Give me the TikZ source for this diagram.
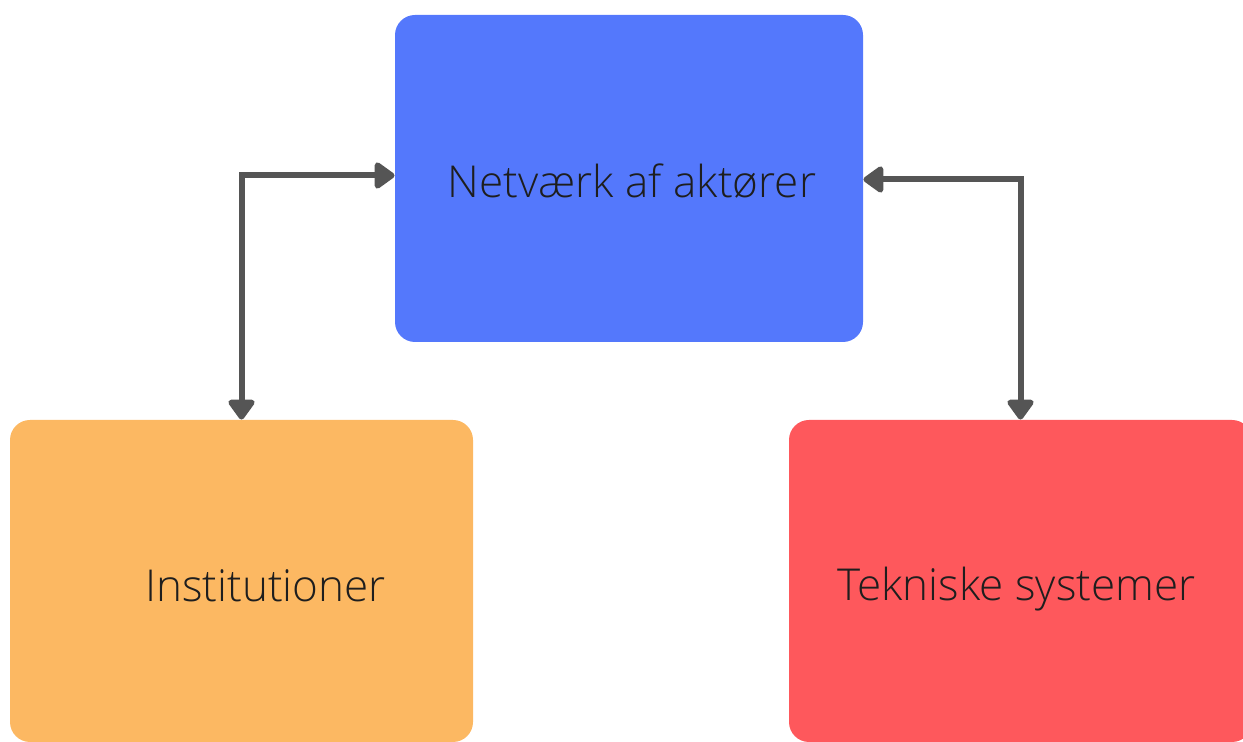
\documentclass[tikz,border=0pt]{standalone}
\usepackage{fontspec}
\IfFontExistsTF{Open Sans Light}{\setmainfont{Open Sans Light}}{\setmainfont{Open Sans}}
\usetikzlibrary{arrows.meta,positioning}

\definecolor{netblue}{HTML}{5478FC}
\definecolor{instorange}{HTML}{FCB862}
\definecolor{tekred}{HTML}{FE585C}
\definecolor{linkgray}{HTML}{555555}
\definecolor{txtdark}{HTML}{1E1E1E}

\begin{document}
\begin{tikzpicture}[x=0.5pt, y=-0.5pt,
    box/.style = {rounded corners=10pt, inner sep=0pt},
    lbl/.style = {text=txtdark, font=\fontsize{22}{26}\selectfont},
    link/.style = {line width=3pt, draw=linkgray, {Triangle[length=11pt,width=15pt,round]}-{Triangle[length=11pt,width=15pt,round]}}]
    \useasboundingbox (0,0) rectangle (1243,742);
    \clip (0,0) rectangle (1243,742);

    \node[box, fill=netblue, minimum width=234pt, minimum height=163.5pt,
          label={[lbl, xshift=1.5pt, yshift=-1.5pt]center:Netværk af aktører}] (net) at (629,178.5) {};
    \node[box, fill=instorange, minimum width=231.5pt, minimum height=161pt,
          label={[lbl, xshift=12pt, yshift=-2.5pt]center:Institutioner}] (inst) at (241.5,581) {};
    \node[box, fill=tekred, minimum width=231.5pt, minimum height=161pt,
          label={[lbl, xshift=-2pt, yshift=-4pt]center:Tekniske systemer}] (tek) at (1020.5,581) {};

    \draw[link] (inst.north) |- ([yshift=1.5pt]net.west);
    \draw[link] ([yshift=-0.5pt]net.east) -| (tek.north);
\end{tikzpicture}
\end{document}
